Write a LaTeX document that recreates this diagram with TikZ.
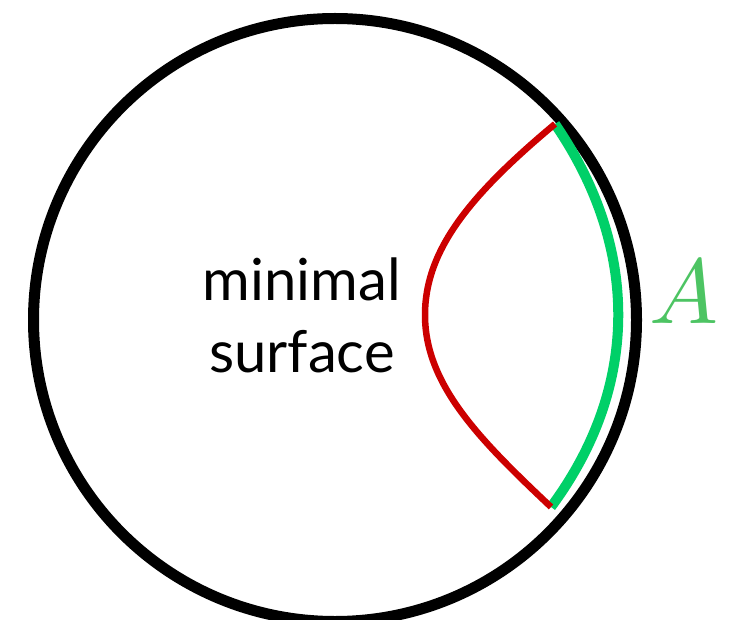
\documentclass[tikz,border=0pt]{standalone}
\usepackage{fontspec}
\newfontfamily\labelfont{Lato}
\definecolor{bndBlack}{HTML}{000000}
\definecolor{rtRed}{HTML}{CC0000}
\definecolor{regGreen}{HTML}{00D068}
\definecolor{lblGreen}{HTML}{4DC463}
\begin{document}
\begin{tikzpicture}[x=1pt,y=-1pt]
  \useasboundingbox (0,0) rectangle (733,620);

  % boundary circle
  \node[draw=bndBlack,line width=11pt,circle,minimum size=603pt,inner sep=0pt] (bulk) at (335,320) {};

  % endpoints of region A
  \coordinate (atop) at (555,124);
  \coordinate (abot) at (551,507);

  % boundary region A
  \draw[regGreen,line width=10pt] (atop) .. controls (640,248) and (640,387) .. (abot);
  \node[text=lblGreen,anchor=base,inner sep=0pt] (lblA) at (684,323) {\scalebox{9.2}{$A$}};

  % minimal surface
  \draw[rtRed,line width=6.5pt] (atop) .. controls (470,195) and (425,250) .. (425,315)
    .. controls (425,385) and (480,440) .. (abot);
  \node[font=\labelfont\fontsize{58}{60}\selectfont,anchor=base] (lbl1) at (302,300) {minimal};
  \node[font=\labelfont\fontsize{58}{60}\selectfont,anchor=base] (lbl2) at (302,372) {surface};
\end{tikzpicture}
\end{document}
